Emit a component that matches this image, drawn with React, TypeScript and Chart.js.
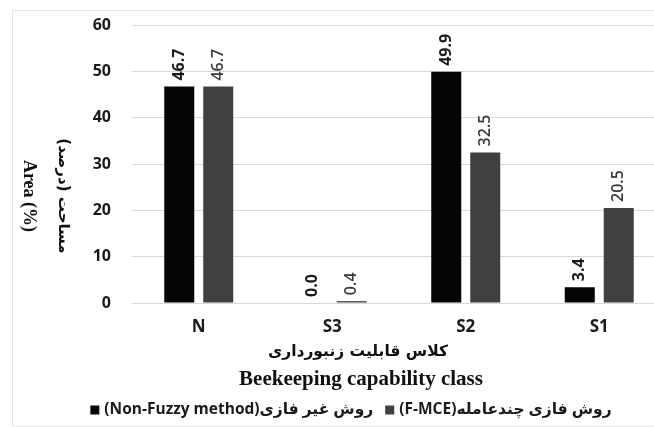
import React, { useEffect, useRef } from 'react';
import { Chart, registerables } from 'chart.js';

Chart.register(...registerables);

// ---- data ----
const categories: string[] = ['N', 'S3', 'S2', 'S1'];
const nonFuzzyValues: number[] = [46.7, 0.0, 49.9, 3.4];
const fuzzyValues: number[] = [46.7, 0.4, 32.5, 20.5];
const seriesLabels: string[] = ['روش غیر فازی(Non-Fuzzy method)', 'روش فازی چندعامله(F-MCE)'];
const seriesColors: string[] = ['#050505', '#404040'];
const yTitleEn = 'Area (%)';
const yTitleFa = 'مساحت (درصد)';
const xTitleFa = 'کلاس قابلیت زنبورداری';
const xTitleEn = 'Beekeeping capability class';
const yMin = 0;
const yMax = 60;
const yStep = 10;

const CANVAS_W = 672;
const CANVAS_H = 427;

const SANS = '"Open Sans", "DejaVu Sans", sans-serif';
const SERIF = '"Liberation Serif", "DejaVu Serif", serif';

const decorPlugin = {
  id: 'decor',
  beforeDraw(chart: any) {
    const ctx = chart.ctx;
    ctx.save();
    ctx.fillStyle = '#ffffff';
    ctx.fillRect(0, 0, chart.width, chart.height);
    ctx.strokeStyle = '#e4e4e4';
    ctx.lineWidth = 1;
    ctx.strokeRect(12.5, 10.5, chart.width + 20, 415.5);
    ctx.restore();
  },
  afterDatasetsDraw(chart: any) {
    const ctx = chart.ctx;
    chart.data.datasets.forEach((ds: any, di: number) => {
      const meta = chart.getDatasetMeta(di);
      meta.data.forEach((el: any, i: number) => {
        const v = ds.data[i] as number;
        ctx.save();
        ctx.translate(el.x, el.y - 6);
        ctx.rotate(-Math.PI / 2);
        ctx.font = (di === 0 ? 'bold ' : '600 ') + '16px ' + SANS;
        ctx.fillStyle = di === 0 ? '#1a1a1a' : '#3a3a3a';
        ctx.textAlign = 'left';
        ctx.textBaseline = 'middle';
        ctx.fillText(v.toFixed(1), 0, 0);
        ctx.restore();
      });
    });
  },
  afterDraw(chart: any) {
    const ctx = chart.ctx;
    const midY = 196;
    // y titles, rotated clockwise
    ctx.save();
    ctx.fillStyle = '#111';
    ctx.textAlign = 'center';
    ctx.textBaseline = 'middle';
    ctx.translate(29, midY);
    ctx.rotate(Math.PI / 2);
    ctx.font = 'bold 18px ' + SERIF;
    ctx.fillText(yTitleEn, 0, 0);
    ctx.restore();

    ctx.save();
    ctx.fillStyle = '#111';
    ctx.textAlign = 'center';
    ctx.textBaseline = 'middle';
    ctx.translate(63, midY);
    ctx.rotate(Math.PI / 2);
    ctx.direction = 'rtl';
    ctx.font = 'bold 15px "DejaVu Sans", sans-serif';
    ctx.fillText(yTitleFa, 0, 0);
    ctx.restore();

    // x titles
    ctx.save();
    ctx.fillStyle = '#111';
    ctx.textAlign = 'center';
    ctx.textBaseline = 'middle';
    ctx.direction = 'rtl';
    ctx.font = 'bold 15.5px "DejaVu Sans", sans-serif';
    ctx.fillText(xTitleFa, 358, 352);
    ctx.direction = 'ltr';
    ctx.font = 'bold 21px ' + SERIF;
    ctx.fillText(xTitleEn, 361, 380);
    ctx.restore();

    // legend
    ctx.save();
    ctx.font = 'bold 15.5px ' + SANS;
    ctx.direction = 'rtl';
    ctx.textAlign = 'left';
    ctx.textBaseline = 'middle';
    const box = 9;
    const gapBoxText = 5;
    const gapItems = 12;
    const widths = chart.data.datasets.map((d: any) => ctx.measureText(d.label).width);
    const total = widths.reduce((a: number, w: number) => a + box + gapBoxText + w, 0) + gapItems;
    let x = 351 - total / 2;
    const y = 410;
    chart.data.datasets.forEach((d: any, i: number) => {
      ctx.fillStyle = d.backgroundColor;
      ctx.fillRect(x, y - box / 2, box, box);
      x += box + gapBoxText;
      ctx.fillStyle = '#1a1a1a';
      ctx.fillText(d.label, x, y);
      x += widths[i] + gapItems;
    });
    ctx.restore();
  },
};

export default function App() {
  const ref = useRef<HTMLCanvasElement | null>(null);
  useEffect(() => {
    if (!ref.current) return;
    const chart = new Chart(ref.current, {
      type: 'bar',
      data: {
        labels: categories,
        datasets: [
          {
            label: seriesLabels[0],
            data: nonFuzzyValues,
            backgroundColor: seriesColors[0],
            borderWidth: 0,
            barPercentage: 0.77,
            categoryPercentage: 0.584,
          },
          {
            label: seriesLabels[1],
            data: fuzzyValues,
            backgroundColor: seriesColors[1],
            borderWidth: 0,
            barPercentage: 0.77,
            categoryPercentage: 0.584,
          },
        ],
      },
      options: {
        responsive: false,
        animation: false,
        devicePixelRatio: 1,
        layout: { padding: { top: 25, left: 0, right: 6, bottom: 0 } },
        plugins: {
          legend: { display: false },
          tooltip: { enabled: false },
        },
        scales: {
          x: {
            grid: { display: false, drawTicks: false },
            border: { display: false },
            ticks: {
              color: '#1a1a1a',
              font: { family: SANS, size: 17, weight: 'bold' },
              padding: 14,
            },
            afterFit(scale: any) {
              scale.height = 124;
              scale.paddingLeft = 0;
              scale.paddingRight = 0;
            },
          },
          y: {
            min: yMin,
            max: yMax,
            grid: { color: '#d9d9d9', lineWidth: 1, drawTicks: false },
            border: { display: false },
            ticks: {
              stepSize: yStep,
              color: '#1a1a1a',
              font: { family: SANS, size: 16, weight: 'bold' },
              padding: 21,
            },
            afterFit(scale: any) {
              scale.width = 132;
              scale.paddingTop = 0;
              scale.paddingBottom = 0;
            },
          },
        },
      },
      plugins: [decorPlugin],
    });
    return () => chart.destroy();
  }, []);
  return (
    <div style={{ position: 'absolute', left: 0, top: 0, width: 654, height: 427, overflow: 'hidden', background: '#fff' }}>
      <canvas ref={ref} width={CANVAS_W} height={CANVAS_H} style={{ display: 'block', width: CANVAS_W, height: CANVAS_H }} />
    </div>
  );
}
